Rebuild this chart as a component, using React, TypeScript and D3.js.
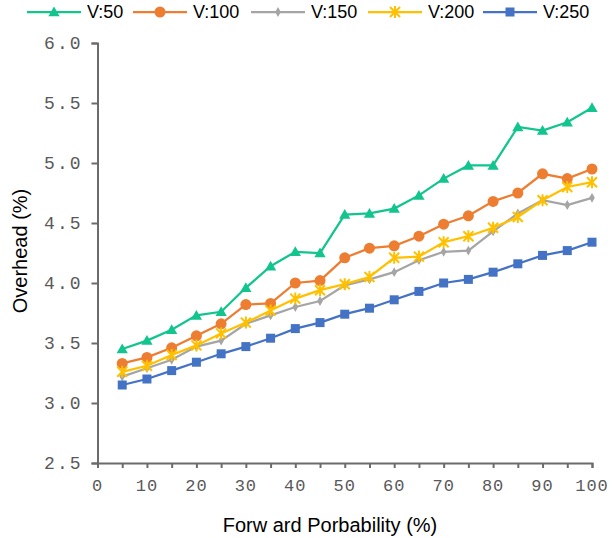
import React, { useEffect, useRef } from "react";
import * as d3 from "d3";

// x values (forward probability %)
const probs = [5, 10, 15, 20, 25, 30, 35, 40, 45, 50, 55, 60, 65, 70, 75, 80, 85, 90, 95, 100];

const v50 = [3.45, 3.52, 3.61, 3.73, 3.76, 3.96, 4.14, 4.26, 4.25, 4.57, 4.58, 4.62, 4.73, 4.87, 4.98, 4.98, 5.3, 5.27, 5.34, 5.46];
const v100 = [3.33, 3.38, 3.46, 3.56, 3.66, 3.82, 3.83, 4.0, 4.02, 4.21, 4.29, 4.31, 4.39, 4.49, 4.56, 4.68, 4.75, 4.91, 4.87, 4.95];
const v150 = [3.22, 3.29, 3.36, 3.47, 3.52, 3.66, 3.73, 3.8, 3.85, 3.98, 4.03, 4.09, 4.19, 4.26, 4.27, 4.43, 4.58, 4.69, 4.65, 4.71];
const v200 = [3.26, 3.31, 3.4, 3.48, 3.58, 3.67, 3.77, 3.87, 3.94, 3.99, 4.05, 4.21, 4.22, 4.34, 4.39, 4.46, 4.55, 4.69, 4.8, 4.84];
const v250 = [3.15, 3.2, 3.27, 3.34, 3.41, 3.47, 3.54, 3.62, 3.67, 3.74, 3.79, 3.86, 3.93, 4.0, 4.03, 4.09, 4.16, 4.23, 4.27, 4.34];

const seriesNames = ["V:50", "V:100", "V:150", "V:200", "V:250"];
const seriesValues = [v50, v100, v150, v200, v250];
const colors = ["#12C48E", "#ED7D31", "#A5A5A5", "#FFC000", "#4472C4"];
const markers = ["triangle", "circle", "diamond", "star", "square"];

const yTicks = [2.5, 3.0, 3.5, 4.0, 4.5, 5.0, 5.5, 6.0];
const xTicks = [0, 10, 20, 30, 40, 50, 60, 70, 80, 90, 100];

const App = () => {
  const svgRef = useRef<SVGSVGElement>(null);

  useEffect(() => {
    const svg = d3.select(svgRef.current);
    svg.selectAll("*").remove();

    const x = d3.scaleLinear().domain([0, 100]).range([97.5, 592]);
    const y = d3.scaleLinear().domain([2.5, 6]).range([463, 43]);
    const axisColor = "#6b6b6b";

    // x axis with minor ticks every 5
    const xAxis = svg.append("g").attr("transform", `translate(0,${y(2.5)})`);
    xAxis
      .call(d3.axisBottom(x).tickValues(d3.range(0, 101, 5)).tickSize(5).tickFormat(() => ""))
      .call((g) => g.select(".domain").attr("stroke", axisColor).attr("stroke-width", 2))
      .call((g) => g.selectAll(".tick line").attr("stroke", axisColor).attr("stroke-width", 2));
    xAxis
      .selectAll("text.lbl")
      .data(xTicks)
      .enter()
      .append("text")
      .attr("class", "lbl")
      .attr("x", (d) => x(d))
      .attr("y", 22)
      .attr("dy", "0.35em")
      .attr("text-anchor", "middle")
      .attr("font-family", "Liberation Mono, monospace")
      .attr("font-size", 17)
      .attr("letter-spacing", 1)
      .attr("fill", "#595959")
      .text((d) => d);

    // y axis
    const yAxis = svg.append("g").attr("transform", `translate(${x(0)},0)`);
    yAxis
      .call(d3.axisLeft(y).tickValues(yTicks).tickSize(6).tickPadding(9).tickFormat(d3.format(".1f")))
      .call((g) => g.select(".domain").attr("stroke", axisColor).attr("stroke-width", 2))
      .call((g) => g.selectAll(".tick line").attr("stroke", axisColor).attr("stroke-width", 2))
      .call((g) =>
        g
          .selectAll(".tick text")
          .attr("font-family", "Liberation Mono, monospace")
          .attr("font-size", 18)
          .attr("letter-spacing", 2)
          .attr("fill", "#595959")
      );

    // axis titles
    svg
      .append("text")
      .attr("x", 330)
      .attr("y", 525)
      .attr("dy", "0.35em")
      .attr("text-anchor", "middle")
      .attr("font-family", "Liberation Sans, Arial, sans-serif")
      .attr("font-size", 20)
      .attr("fill", "#000")
      .text("Forw ard Porbability (%)");

    svg
      .append("text")
      .attr("transform", `translate(20,${(43 + 463) / 2 - 2}) rotate(-90)`)
      .attr("dy", "0.35em")
      .attr("text-anchor", "middle")
      .attr("font-family", "Liberation Sans, Arial, sans-serif")
      .attr("font-size", 20)
      .attr("fill", "#000")
      .text("Overhead (%)");

    const drawMarker = (g: any, type: string, color: string, cx: number, cy: number) => {
      if (type === "triangle") {
        g.append("path")
          .attr("d", d3.symbol(d3.symbolTriangle, 55)())
          .attr("transform", `translate(${cx},${cy + 1})`)
          .attr("fill", color);
      } else if (type === "circle") {
        g.append("circle").attr("cx", cx).attr("cy", cy).attr("r", 5.5).attr("fill", color);
      } else if (type === "diamond") {
        g.append("path")
          .attr("d", d3.symbol(d3.symbolDiamond, 28)())
          .attr("transform", `translate(${cx},${cy})`)
          .attr("fill", color);
      } else if (type === "star") {
        const s = 5;
        g.append("path")
          .attr("d", `M${cx - s},${cy - s}L${cx + s},${cy + s}M${cx - s},${cy + s}L${cx + s},${cy - s}M${cx},${cy - s - 1}L${cx},${cy + s + 1}`)
          .attr("stroke", color)
          .attr("stroke-width", 2)
          .attr("fill", "none");
      } else {
        g.append("rect")
          .attr("x", cx - 4.5)
          .attr("y", cy - 4.5)
          .attr("width", 9)
          .attr("height", 9)
          .attr("fill", color);
      }
    };

    const line = d3
      .line<number>()
      .x((_, i) => x(probs[i]))
      .y((d) => y(d));

    seriesValues.forEach((vals, si) => {
      const g = svg.append("g");
      g.append("path")
        .attr("d", line(vals))
        .attr("fill", "none")
        .attr("stroke", colors[si])
        .attr("stroke-width", 2.25);
      vals.forEach((v, i) => drawMarker(g, markers[si], colors[si], x(probs[i]), y(v)));
    });

    // legend
    const legendX = [27, 133, 251, 368, 483];
    const legend = svg.append("g");
    seriesNames.forEach((name, i) => {
      const lx = legendX[i];
      legend
        .append("line")
        .attr("x1", lx)
        .attr("x2", lx + 54)
        .attr("y1", 12)
        .attr("y2", 12)
        .attr("stroke", colors[i])
        .attr("stroke-width", 2.25);
      drawMarker(legend, markers[i], colors[i], lx + 27, 12);
      legend
        .append("text")
        .attr("x", lx + 60)
        .attr("y", 12)
        .attr("dy", "0.35em")
        .attr("font-family", "Liberation Sans, Arial, sans-serif")
        .attr("font-size", 18)
        .attr("fill", "#000")
        .text(name);
    });
  }, []);

  return (
    <div style={{ position: "absolute", left: 0, top: 0 }}>
      <svg ref={svgRef} width={616} height={538} style={{ display: "block" }}></svg>
    </div>
  );
};

export default App;
